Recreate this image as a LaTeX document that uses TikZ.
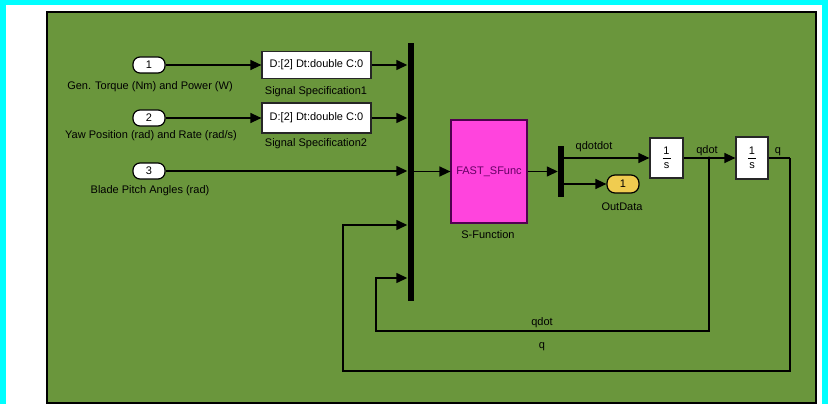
\documentclass[tikz,border=0pt]{standalone}
\usepackage{fontspec}
\setmainfont{Liberation Sans}
\usetikzlibrary{arrows.meta}
\definecolor{bggreen}{RGB}{106,150,60}
\definecolor{sfpink}{RGB}{255,68,221}
\definecolor{sfpurple}{RGB}{100,0,100}
\definecolor{outyellow}{RGB}{240,204,80}
\definecolor{frcyan}{RGB}{0,255,255}
\tikzset{
  sig/.style={line width=1.4pt, -{Triangle[length=11pt,width=10pt]}},
  wire/.style={line width=1.4pt},
  port/.style={draw=black, line width=1.2pt, rounded corners=7pt, minimum width=32pt, minimum height=16pt, inner sep=0pt, font=\fontsize{11}{12}\selectfont},
  whitebox/.style={draw=black!85, line width=1.2pt, fill=white, inner sep=0pt, font=\fontsize{11}{12}\selectfont},
  bar/.style={fill=black, draw=none, inner sep=0pt, minimum width=6pt},
  lbl/.style={inner sep=0pt, font=\fontsize{11}{12}\selectfont, text=black}
}
\begin{document}
\begin{tikzpicture}[x=1pt,y=-1pt]
\useasboundingbox (0,0) rectangle (828,404);
% frames
\fill[frcyan] (0,0) rectangle (828,404);
\fill[white] (6,5) rectangle (822,404);
\draw[fill=bggreen, line width=2pt, draw=black] (47,12) rectangle (816,403);

% inports
\node[port, fill=white] (in1) at (149,65) {1};
\node[port, fill=white] (in2) at (149,118) {2};
\node[port, fill=white] (in3) at (149,171) {3};
\node[lbl] (in1l) at (150,86.5) {Gen. Torque (Nm) and Power (W)};
\node[lbl] (in2l) at (151,136) {Yaw Position (rad) and Rate (rad/s)};
\node[lbl] (in3l) at (150,191) {Blade Pitch Angles (rad)};

% signal specification blocks
\node[whitebox, minimum width=109pt, minimum height=27pt] (spec1) at (316.5,65) {D:[2] Dt:double C:0};
\node[whitebox, minimum width=109pt, minimum height=30pt] (spec2) at (316.5,118) {D:[2] Dt:double C:0};
\node[lbl] (spec1l) at (316,91.5) {Signal Specification1};
\node[lbl] (spec2l) at (316,144) {Signal Specification2};

% mux bar
\node[bar, minimum height=258pt] (mux) at (410.5,171.7) {};

% S-function
\node[draw=sfpurple!80!black, line width=1.2pt, fill=sfpink, minimum width=76pt, minimum height=103pt, inner sep=0pt, font=\fontsize{11}{12}\selectfont, text=sfpurple] (sfun) at (489,171.5) {FAST\_SFunc};
\node[lbl] (sfunl) at (488,235) {S-Function};

% demux bar
\node[bar, minimum height=51pt] (demux) at (561,171.5) {};

% outport
\node[port, fill=outyellow, rounded corners=8pt, minimum height=18pt] (out1) at (623,184) {1};
\node[lbl] (out1l) at (622,207) {OutData};

% integrators
\node[whitebox, minimum width=33pt, minimum height=40pt] (int1) at (666.5,158) {};
\node[whitebox, minimum width=32pt, minimum height=42pt] (int2) at (752,158) {};
\foreach \b in {int1,int2}{
  \node[lbl] (\b n) at ([yshift=7pt]\b.center) {1};
  \node[lbl] (\b d) at ([yshift=-8pt]\b.center) {s};
  \draw[line width=0.9pt] ([xshift=-4pt]\b.center) -- ([xshift=4pt]\b.center);
}

% signal labels
\node[lbl] (qddl) at (594,147) {qdotdot};
\node[lbl] (qdl) at (707,150.5) {qdot};
\node[lbl] (ql) at (778,151.5) {q};
\node[lbl] (qdl2) at (542,323) {qdot};
\node[lbl] (ql2) at (542,347) {q};

% coordinates for feedback
\coordinate (jq) at (709,158);
\coordinate (qc) at (790,158);

% connectors
\draw[sig] (in1.east) -- (spec1.west);
\draw[sig] (in2.east) -- (spec2.west);
\draw[sig] (spec1.east) -- (spec1.east -| mux.west);
\draw[sig] (spec2.east) -- (spec2.east -| mux.west);
\draw[sig] (in3.east) -- (in3.east -| mux.west);
\draw[sig] (mux.east |- sfun.west) -- (sfun.west);
\draw[sig] (sfun.east) -- (sfun.east -| demux.west);
\draw[sig] (demux.east |- int1.west) -- (int1.west);
\draw[sig] (demux.east |- out1.west) -- (out1.west);
\draw[sig] (int1.east) -- (int2.west);
\draw[wire] (int2.east) -- (qc);
\draw[sig] (qc) -- (790,371) -- (343,371) -- (343,225) -- (343,225 -| mux.west);
\draw[sig] (jq) -- (709,331) -- (376,331) -- (376,278) -- (376,278 -| mux.west);
\fill (jq) circle (1.6pt);
\end{tikzpicture}
\end{document}
